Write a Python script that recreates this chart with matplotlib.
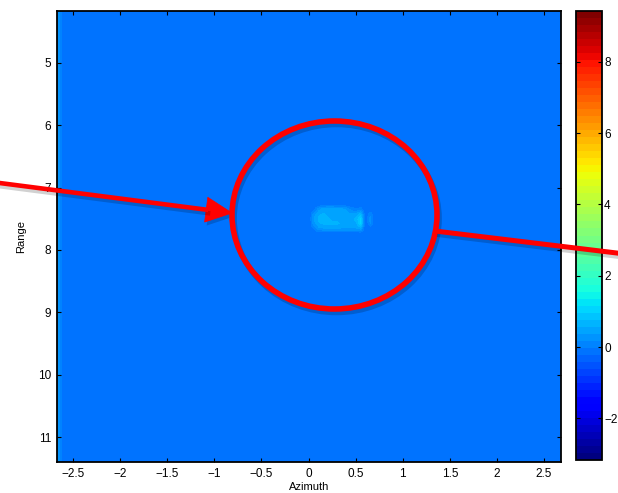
import numpy as np
import matplotlib
matplotlib.use('Agg')
import matplotlib.pyplot as plt
from matplotlib.patches import Ellipse, Polygon
from matplotlib.lines import Line2D
import matplotlib.patheffects as pe

plt.rcParams['font.family'] = ['Liberation Sans', 'DejaVu Sans']

# image extent and cell size
az_lim = (-2.67, 2.68)
rng_lim = (4.17, 11.4)
az_step = 0.05
rng_step = 0.08

# scene values
background = -0.2
edge_value = 0.25
blob_az0 = 0.05
blob_rng0 = 7.28
blob_vals = [
    [-0.1, 0.3, 0.5, 0.55, 0.55, 0.5, 0.45, 0.35, 0.1, 0.0, 0.1, -0.2, -0.2, -0.2, -0.2],
    [0.3, 0.55, 0.6, 0.55, 0.5, 0.5, 0.5, 0.45, 0.4, 0.45, 0.7, -0.2, 0.15, -0.2, -0.2],
    [0.4, 0.6, 0.6, 0.6, 0.55, 0.55, 0.55, 0.55, 0.5, 0.65, 1.1, -0.2, 0.3, -0.2, 0.0],
    [0.3, 0.55, 0.6, 0.6, 0.6, 0.6, 0.55, 0.55, 0.5, 0.55, 1.0, -0.2, 0.2, -0.2, -0.2],
    [0.0, 0.3, 0.35, 0.4, 0.4, 0.4, 0.35, 0.35, 0.35, 0.35, 0.45, -0.2, -0.2, -0.2, -0.2],
]
clim = (-3.17, 9.43)

x_ticks = [-2.5, -2, -1.5, -1, -0.5, 0, 0.5, 1, 1.5, 2, 2.5]
x_labels = ['\u22122.5', '\u22122', '\u22121.5', '\u22121', '\u22120.5', '0', '0.5', '1', '1.5', '2', '2.5']
y_ticks = [5, 6, 7, 8, 9, 10, 11]
cbar_ticks = [-2, 0, 2, 4, 6, 8]

# build the image
n_az = int(round((az_lim[1] - az_lim[0]) / az_step))
n_rng = int(round((rng_lim[1] - rng_lim[0]) / rng_step))
img = np.full((n_rng, n_az), background)
img[:, 0] = edge_value
blob = np.array(blob_vals)
i0 = int(round((blob_rng0 - rng_lim[0]) / rng_step))
j0 = int(round((blob_az0 - az_lim[0]) / az_step))
img[i0:i0 + blob.shape[0], j0:j0 + blob.shape[1]] = blob

W, H = 618, 493
fig = plt.figure(figsize=(W / 100, H / 100), dpi=100)
ax = fig.add_axes([57 / W, 1 - 462 / H, 504 / W, 451 / H])
cax = fig.add_axes([576 / W, 1 - 460 / H, 26 / W, 449 / H])

im = ax.imshow(img, cmap=plt.get_cmap('jet', 64), vmin=clim[0], vmax=clim[1],
               extent=(az_lim[0], az_lim[1], rng_lim[1], rng_lim[0]),
               aspect='auto', interpolation='bilinear')
ax.set_xlim(az_lim)
ax.set_ylim(rng_lim[1], rng_lim[0])

ax.set_xticks(x_ticks)
ax.set_xticklabels(x_labels)
ax.set_yticks(y_ticks)
ax.tick_params(direction='in', length=3, width=0.8, labelsize=8.5, pad=4,
               top=True, right=True)
ax.set_xlabel('Azimuth', fontsize=8, labelpad=2)
ax.set_ylabel('Range', fontsize=8, labelpad=9)
for s in ax.spines.values():
    s.set_linewidth(1.3)

cb = fig.colorbar(im, cax=cax, ticks=cbar_ticks)
cax.tick_params(direction='in', length=3, width=0.8, labelsize=8.5, pad=1.5,
                left=True, right=True)
cb.outline.set_linewidth(1.3)


# red markup drawn over the figure, in pixel positions
def px(x, y):
    return (x / W, 1 - y / H)


shadow_line = [pe.SimpleLineShadow(offset=(1.5, -2.5), shadow_color='k', alpha=0.18), pe.Normal()]
shadow_patch = [pe.SimplePatchShadow(offset=(1.5, -2.5), shadow_rgbFace='k', alpha=0.18), pe.Normal()]

tip = np.array([232.0, 213.0])
tail = np.array([-5.0, 182.4])
u = (tip - tail) / np.linalg.norm(tip - tail)
n = np.array([-u[1], u[0]])
base = tip - 26 * u
head = [px(*tip), px(*(base + 12.5 * n)), px(*(base - 12.5 * n))]

shaft_end = base + 2 * u
fig.add_artist(Line2D([px(*tail)[0], px(*shaft_end)[0]], [px(*tail)[1], px(*shaft_end)[1]],
                      transform=fig.transFigure, color='red', lw=3.3,
                      solid_capstyle='butt', path_effects=shadow_line))
fig.add_artist(Polygon(head, closed=True, transform=fig.transFigure,
                       fc='red', ec='red', lw=0.5, path_effects=shadow_patch))

fig.add_artist(Ellipse(px(334.5, 215), 205 / W, 188 / H, transform=fig.transFigure,
                       fill=False, ec='red', lw=4, path_effects=shadow_line))

p0, p1 = px(435, 231), px(625, 254)
fig.add_artist(Line2D([p0[0], p1[0]], [p0[1], p1[1]], transform=fig.transFigure,
                      color='red', lw=3.6, solid_capstyle='butt', path_effects=shadow_line))

fig.savefig('out.png', dpi=100)
